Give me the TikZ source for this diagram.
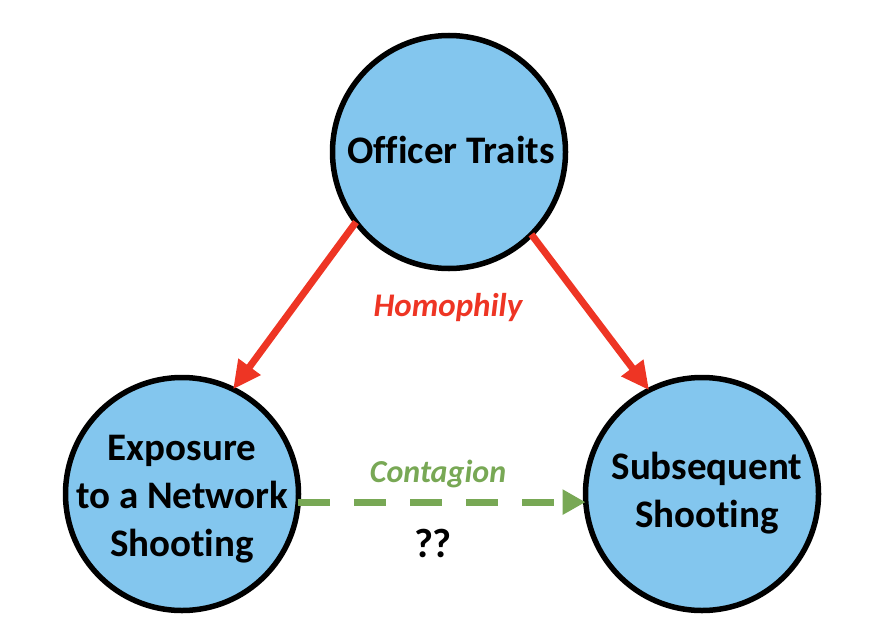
\documentclass[tikz,border=0pt]{standalone}
\usepackage{fontspec}
\setmainfont[Ligatures=NoCommon]{Carlito}
\usetikzlibrary{arrows.meta}
\definecolor{bubble}{HTML}{83C6EE}
\definecolor{homred}{HTML}{EE3524}
\definecolor{congreen}{HTML}{78A855}
\tikzset{
  bubble/.style={circle, draw=black, line width=5.5pt, fill=bubble, minimum size=233pt, inner sep=0pt, outer sep=0pt},
  bubbletext/.style={inner sep=0pt, align=center, font=\fontsize{39}{48}\selectfont\bfseries},
  redarrow/.style={draw=homred, line width=7pt, -{Triangle[length=28pt,width=26pt]}},
  greenarrow/.style={draw=congreen, line width=7pt, dash pattern=on 32pt off 24pt, -{Triangle[length=23pt,width=24pt]}},
  lbl/.style={inner sep=0pt}
}
\begin{document}
\begin{tikzpicture}[x=1pt,y=-1pt]
\useasboundingbox (0,0) rectangle (872,634);
\node[bubble] (top) at (449,152) {};
\node[bubble] (left) at (182,494) {};
\node[bubble] (right) at (702,494) {};
\node[bubbletext] (toptext) at (451,150) {Officer Traits};
\node[bubbletext] (lefttext) at (182,499) {Exposure\\to a Network\\Shooting};
\node[bubbletext] (righttext) at (707,493) {Subsequent\\Shooting};
\draw[redarrow] (top.217) -- (left.64.6);
\draw[redarrow] (top.315) -- (right.117);
\draw[greenarrow] (left.-4.4) -- (left.-4.4 -| right.west);
\node[lbl, text=homred, font=\fontsize{33}{40}\selectfont\bfseries\itshape] (hom) at (448,308) {Homophily};
\node[lbl, text=congreen, font=\fontsize{32}{38}\selectfont\bfseries\itshape] (con) at (438,474) {Contagion};
\node[lbl, font=\fontsize{41}{48}\selectfont\bfseries] (qq) at (433,543) {??};
\end{tikzpicture}
\end{document}
